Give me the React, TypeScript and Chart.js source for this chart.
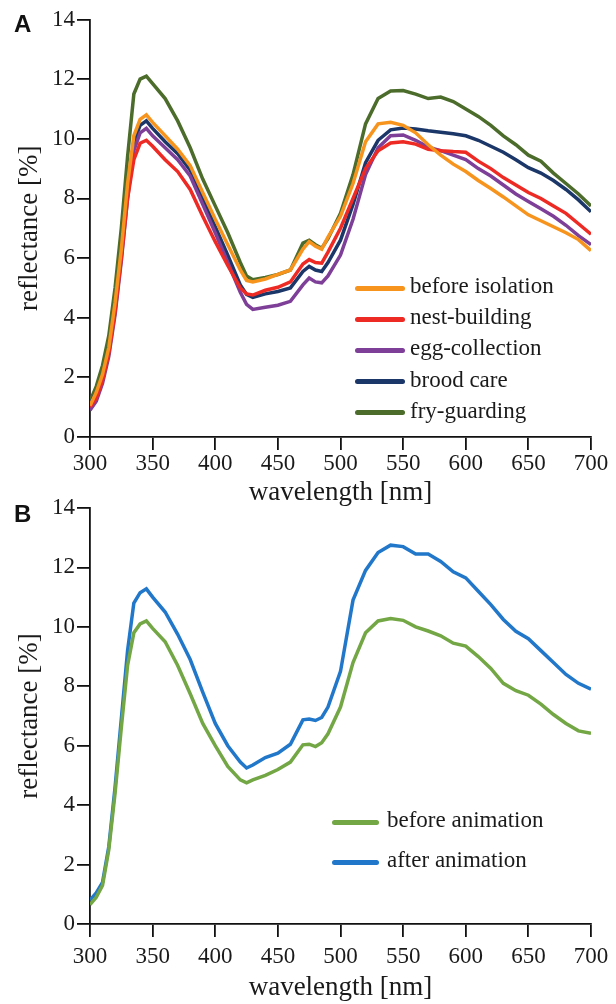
import React, { useEffect, useRef } from "react";
import { Chart, registerables } from "chart.js";

Chart.register(...registerables);

// ---------- data ----------
const wavelengths = [
  300, 305, 310, 315, 320, 325, 330, 335, 340, 345, 350,
  360, 370, 380, 390, 400, 410, 420, 425, 430,
  440, 450, 460, 470, 475, 480, 485, 490,
  500, 510, 520, 530, 540, 550, 560, 570, 580, 590, 600,
  610, 620, 630, 640, 650, 660, 670, 680, 690, 700,
];

// Panel A
const beforeIsolation = [
  1.05, 1.5, 2.1, 3.0, 4.5, 6.3, 8.5, 10.1, 10.65, 10.8, 10.55,
  10.1, 9.65, 9.1, 8.2, 7.3, 6.45, 5.6, 5.25, 5.2,
  5.3, 5.45, 5.6, 6.3, 6.55, 6.4, 6.3, 6.7,
  7.4, 8.5, 9.9, 10.5, 10.55, 10.45, 10.2, 9.8, 9.45, 9.15, 8.9,
  8.6, 8.33, 8.05, 7.75, 7.45, 7.25, 7.05, 6.85, 6.62, 6.25,
];
const nestBuilding = [
  1.0, 1.3, 1.9, 2.8, 4.2, 6.0, 8.0, 9.3, 9.85, 9.95, 9.75,
  9.3, 8.9, 8.3, 7.4, 6.55, 5.75, 5.0, 4.8, 4.76,
  4.92, 5.02, 5.2, 5.8, 5.95, 5.85, 5.83, 6.2,
  7.0, 8.0, 9.0, 9.6, 9.86, 9.9, 9.82, 9.65, 9.6, 9.57, 9.55,
  9.25, 9.0, 8.7, 8.45, 8.2, 8.0, 7.75, 7.5, 7.15, 6.8,
];
const eggCollection = [
  0.9, 1.2, 1.8, 2.7, 4.1, 5.9, 8.0, 9.6, 10.2, 10.35, 10.1,
  9.7, 9.3, 8.75, 7.8, 6.85, 5.85, 4.85, 4.45, 4.28,
  4.35, 4.42, 4.55, 5.1, 5.33, 5.2, 5.17, 5.4,
  6.1, 7.3, 8.8, 9.7, 10.1, 10.13, 9.95, 9.72, 9.6, 9.45, 9.3,
  9.0, 8.75, 8.45, 8.15, 7.9, 7.65, 7.4, 7.1, 6.75, 6.45,
];
const broodCare = [
  1.1, 1.5, 2.0, 2.9, 4.3, 6.1, 8.3, 9.9, 10.45, 10.6, 10.35,
  9.9, 9.5, 8.95, 8.0, 7.05, 6.1, 5.1, 4.78, 4.68,
  4.8, 4.88, 5.0, 5.55, 5.72, 5.6, 5.55, 5.85,
  6.6, 7.8, 9.2, 9.95, 10.3, 10.36, 10.33, 10.27, 10.22, 10.17, 10.1,
  9.95, 9.75, 9.55, 9.3, 9.03, 8.85, 8.6, 8.3, 7.95, 7.55,
];
const fryGuarding = [
  1.2, 1.7, 2.4, 3.4, 5.0, 7.0, 9.4, 11.5, 12.0, 12.1, 11.85,
  11.35, 10.6, 9.7, 8.65, 7.75, 6.85, 5.85, 5.4, 5.27,
  5.35, 5.45, 5.6, 6.5, 6.6, 6.45, 6.33, 6.65,
  7.5, 8.8, 10.5, 11.35, 11.6, 11.62, 11.5, 11.35, 11.4, 11.25, 11.0,
  10.75, 10.45, 10.1, 9.8, 9.45, 9.25, 8.85, 8.5, 8.15, 7.75,
];

// Panel B
const beforeAnimation = [
  0.65, 0.9, 1.3, 2.5, 4.4, 6.6, 8.7, 9.8, 10.1, 10.2, 9.95,
  9.5, 8.7, 7.75, 6.75, 6.0, 5.3, 4.85, 4.75, 4.85,
  5.0, 5.2, 5.45, 6.03, 6.05, 5.97, 6.1, 6.4,
  7.3, 8.8, 9.8, 10.2, 10.28, 10.22, 10.0, 9.86, 9.7, 9.45, 9.35,
  9.0, 8.6, 8.1, 7.85, 7.7, 7.4, 7.05, 6.75, 6.5, 6.42,
];
const afterAnimation = [
  0.8, 1.05, 1.4, 2.6, 4.6, 6.9, 9.2, 10.8, 11.15, 11.28, 11.0,
  10.5, 9.75, 8.9, 7.8, 6.75, 6.0, 5.45, 5.25, 5.35,
  5.6, 5.75, 6.05, 6.87, 6.9, 6.85, 6.95, 7.3,
  8.5, 10.9, 11.9, 12.5, 12.75, 12.7, 12.45, 12.45, 12.2, 11.85, 11.65,
  11.2, 10.75, 10.25, 9.85, 9.6, 9.2, 8.8, 8.4, 8.1, 7.9,
];

const xTicks = [300, 350, 400, 450, 500, 550, 600, 650, 700];
const yTicks = [0, 2, 4, 6, 8, 10, 12, 14];

const seriesA = [
  { label: "before isolation", values: beforeIsolation, color: "#F7941D" },
  { label: "nest-building", values: nestBuilding, color: "#EE2A24" },
  { label: "egg-collection", values: eggCollection, color: "#7E3F98" },
  { label: "brood care", values: broodCare, color: "#1B3668" },
  { label: "fry-guarding", values: fryGuarding, color: "#4B6C2B" },
];
const seriesB = [
  { label: "before animation", values: beforeAnimation, color: "#73A644" },
  { label: "after animation", values: afterAnimation, color: "#2177C9" },
];

// ---------- styling ----------
const SERIF = '"Liberation Serif", "Times New Roman", serif';
const TEXT = "#1a1a1a";

type Series = { label: string; values: number[]; color: string };

function makeChart(
  canvas: HTMLCanvasElement,
  series: Series[],
  cfg: { padTop: number; xHeight: number; tickPad: number }
) {
  return new Chart(canvas, {
    type: "line",
    data: {
      datasets: series.map((s) => ({
        label: s.label,
        data: wavelengths.map((x, i) => ({ x, y: s.values[i] })),
        borderColor: s.color,
        backgroundColor: s.color,
        borderWidth: 3.5,
        pointRadius: 0,
        tension: 0,
        fill: false,
      })),
    },
    options: {
      responsive: false,
      animation: false,
      events: [],
      layout: { padding: { left: 0, right: 25, top: cfg.padTop, bottom: 0 } },
      plugins: { legend: { display: false }, tooltip: { enabled: false } },
      scales: {
        x: {
          type: "linear",
          min: 300,
          max: 700,
          afterBuildTicks: (scale: any) => {
            scale.ticks = xTicks.map((v) => ({ value: v }));
          },
          afterFit: (scale: any) => {
            scale.height = cfg.xHeight;
          },
          grid: {
            display: true,
            drawOnChartArea: false,
            drawTicks: true,
            tickLength: 13,
            color: "#111",
            lineWidth: 1.8,
          },
          border: { display: true, color: "#111", width: 1.8 },
          ticks: {
            padding: cfg.tickPad,
            color: TEXT,
            font: { family: SERIF, size: 23 },
            maxRotation: 0,
            autoSkip: false,
          },
          title: {
            display: true,
            text: "wavelength [nm]",
            color: TEXT,
            font: { family: SERIF, size: 27 },
            padding: { top: 0, bottom: 0 },
          },
        },
        y: {
          type: "linear",
          min: 0,
          max: 14,
          afterBuildTicks: (scale: any) => {
            scale.ticks = yTicks.map((v) => ({ value: v }));
          },
          afterFit: (scale: any) => {
            scale.width = 90;
          },
          grid: {
            display: true,
            drawOnChartArea: false,
            drawTicks: true,
            tickLength: 13,
            color: "#111",
            lineWidth: 1.8,
          },
          border: { display: true, color: "#111", width: 1.8 },
          ticks: {
            padding: 2,
            color: TEXT,
            font: { family: SERIF, size: 23 },
            autoSkip: false,
          },
          title: {
            display: true,
            text: "reflectance [%]",
            color: TEXT,
            font: { family: SERIF, size: 27 },
            padding: { top: 14, bottom: 0 },
          },
        },
      },
    } as any,
  });
}

function Legend({
  series,
  lineX,
  lineW,
  textX,
  rowY,
}: {
  series: Series[];
  lineX: number;
  lineW: number;
  textX: number;
  rowY: number[];
}) {
  return (
    <>
      {series.map((s, i) => (
        <React.Fragment key={s.label}>
          <div
            style={{
              position: "absolute",
              left: lineX,
              top: rowY[i] - 2.5,
              width: lineW,
              height: 5,
              borderRadius: 2.5,
              background: s.color,
            }}
          />
          <div
            style={{
              position: "absolute",
              left: textX,
              top: rowY[i] - 16,
              height: 28,
              lineHeight: "28px",
              fontFamily: SERIF,
              fontSize: 23,
              color: TEXT,
              whiteSpace: "nowrap",
            }}
          >
            {s.label}
          </div>
        </React.Fragment>
      ))}
    </>
  );
}

const panelLabel: React.CSSProperties = {
  position: "absolute",
  left: 14,
  fontFamily: '"Liberation Sans", Arial, sans-serif',
  fontWeight: 700,
  fontSize: 24,
  lineHeight: "24px",
  color: "#111",
};

export default function App() {
  const refA = useRef<HTMLCanvasElement>(null);
  const refB = useRef<HTMLCanvasElement>(null);

  useEffect(() => {
    const a = makeChart(refA.current!, seriesA, { padTop: 19.5, xHeight: 72, tickPad: 0 });
    const b = makeChart(refB.current!, seriesB, { padTop: 18, xHeight: 80, tickPad: 6 });
    return () => {
      a.destroy();
      b.destroy();
    };
  }, []);

  return (
    <div
      style={{
        position: "absolute",
        left: 0,
        top: 0,
        width: 616,
        height: 1004,
        background: "#fff",
        overflow: "hidden",
      }}
    >
      <canvas
        ref={refA}
        width={616}
        height={509}
        style={{ position: "absolute", left: 0, top: 0, width: 616, height: 509 }}
      />
      <canvas
        ref={refB}
        width={616}
        height={514}
        style={{ position: "absolute", left: 0, top: 490, width: 616, height: 514 }}
      />
      <div style={{ ...panelLabel, top: 12 }}>A</div>
      <div style={{ ...panelLabel, top: 502 }}>B</div>
      <Legend
        series={seriesA}
        lineX={355}
        lineW={50}
        textX={410}
        rowY={[288, 319.2, 350.4, 381.6, 412.8]}
      />
      <Legend series={seriesB} lineX={332} lineW={47} textX={387} rowY={[822, 862]} />
    </div>
  );
}
